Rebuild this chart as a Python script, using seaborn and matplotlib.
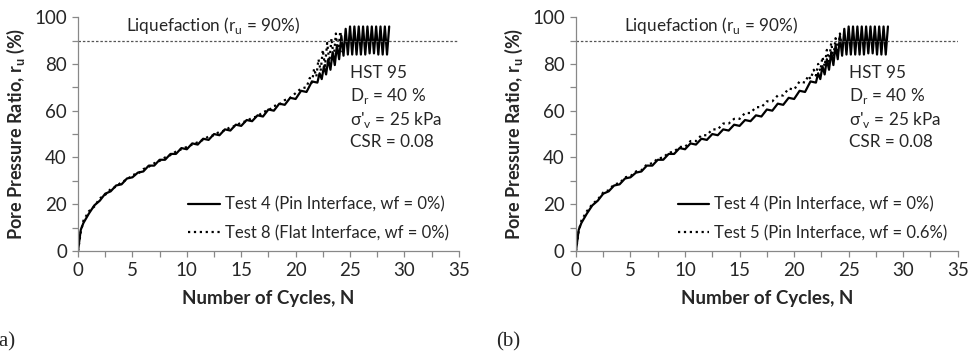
import numpy as np
import pandas as pd
import matplotlib
matplotlib.use("Agg")
import matplotlib.pyplot as plt
from matplotlib.ticker import MultipleLocator
import seaborn as sns

# Test 4 (Pin Interface, wf = 0%)
n_test4 = [0, 0.25, 0.5, 1.0, 1.5, 2.0, 2.5, 3.0, 3.5, 4.0, 4.5, 5.0, 5.5, 6.0, 6.5, 7.0,
           7.5, 8.0, 8.5, 9.0, 9.5, 10.0, 10.5, 11.0, 11.5, 12.0, 12.5, 13.0, 13.5, 14.0,
           14.5, 15.0, 15.5, 16.0, 16.5, 17.0, 17.5, 18.0, 18.5, 19.0, 19.5, 20.0, 20.5,
           21.0, 21.5, 22.0, 22.2, 22.4, 22.6, 22.8, 23.0, 23.2, 23.4, 23.6, 23.8, 24.0,
           24.2, 24.4, 24.6, 24.8, 25.0, 25.2, 25.4, 25.6, 25.8, 26.0, 26.2, 26.4, 26.6,
           26.8, 27.0, 27.2, 27.4, 27.6, 27.8, 28.0, 28.2, 28.4, 28.6]
ru_test4 = [0, 9, 12, 16, 19.5, 21.5, 24.5, 25.5, 28, 28.5, 31, 31.5, 33.5, 34, 36.5, 36.5,
            39, 39, 41.5, 41.5, 44, 43.5, 46, 45.5, 48, 47.5, 50, 49.5, 52, 51.5,
            54, 53.5, 56, 55.5, 58, 57.5, 60.5, 60, 63, 62.5, 65.5, 65, 68.5,
            68, 72.5, 72, 76, 73.5, 79, 75.5, 82, 77.5, 85, 79.5, 88, 82,
            92, 83.5, 95, 84, 96, 84, 96, 84, 96, 84, 96, 84, 96,
            84.5, 96, 84.5, 96, 84, 96, 84, 96, 84, 96]

# Test 8 (Flat Interface, wf = 0%)
n_test8 = [0, 0.25, 0.5, 1.0, 1.5, 2.0, 2.5, 3.0, 3.5, 4.0, 4.5, 5.0, 5.5, 6.0, 6.5, 7.0,
           7.5, 8.0, 8.5, 9.0, 9.5, 10.0, 10.5, 11.0, 11.5, 12.0, 12.5, 13.0, 13.5, 14.0,
           14.5, 15.0, 15.5, 16.0, 16.5, 17.0, 17.5, 18.0, 18.5, 19.0, 19.5, 20.0, 20.5,
           21.0, 21.3, 21.5, 21.7, 21.9, 22.1, 22.3, 22.5, 22.7, 22.9, 23.1, 23.3, 23.5,
           23.7, 23.9, 24.1, 24.3]
ru_test8 = [0, 8, 13, 17, 19, 22.5, 24, 26.5, 27.5, 29.5, 30.5, 32.5, 33, 35, 36, 37.5,
            38.5, 40, 41, 42.5, 43.5, 44.5, 45.5, 46.5, 47.5, 49, 49.5, 51, 51.5, 53,
            53.5, 55, 55.5, 57, 57.5, 59.5, 60, 62, 62.5, 64.5, 65.5, 67.5, 69.5,
            70, 74, 72, 78, 74.5, 82, 77, 86, 79, 89, 81, 91, 82.5,
            93, 84, 94, 85]

# Test 5 (Pin Interface, wf = 0.6%)
n_test5 = [0, 0.25, 0.5, 1.0, 1.5, 2.0, 2.5, 3.0, 3.5, 4.0, 4.5, 5.0, 5.5, 6.0, 6.5, 7.0,
           7.5, 8.0, 8.5, 9.0, 9.5, 10.0, 10.5, 11.0, 11.5, 12.0, 12.5, 13.0, 13.5, 14.0,
           14.5, 15.0, 15.5, 16.0, 16.5, 17.0, 17.5, 18.0, 18.5, 19.0, 19.5, 20.0, 20.5,
           21.0, 21.3, 21.5, 21.8, 22.0, 22.2, 22.4, 22.6, 22.8, 23.0, 23.2, 23.4, 23.6,
           23.8, 24.0, 24.2, 24.4]
ru_test5 = [0, 8.5, 13, 17, 20, 22, 25, 26, 28.5, 29, 31.5, 32, 34, 34.5, 37, 37.5,
            39.5, 40, 42, 42.5, 44.5, 44.5, 47, 47, 49.5, 49.5, 52, 52, 54.5, 54.5,
            56.5, 56.5, 59, 59, 61.5, 61.5, 64, 64, 66.5, 66.5, 69.5, 69, 72.5,
            72, 75, 73.5, 77.5, 75, 80, 77, 83, 79, 86, 81, 89, 83,
            91, 84.5, 93, 85.5]

panels = [
    ("(a)", "Test 8 (Flat Interface, wf = 0%)", n_test8, ru_test8),
    ("(b)", "Test 5 (Pin Interface, wf = 0.6%)", n_test5, ru_test5),
]

sns.set_style("white")
plt.rcParams["font.family"] = ["Lato", "DejaVu Sans"]
plt.rcParams["mathtext.fontset"] = "custom"
plt.rcParams["mathtext.rm"] = "Lato"
plt.rcParams["mathtext.bf"] = "Lato:bold"

fig = plt.figure(figsize=(9.68, 3.57), dpi=100)
axes = [fig.add_axes([0.0806, 0.297, 0.3934, 0.655]),
        fig.add_axes([0.595, 0.297, 0.3944, 0.655])]

for ax, (tag, label2, n2, ru2) in zip(axes, panels):
    d4 = pd.DataFrame({"N": n_test4, "ru": ru_test4})
    d2 = pd.DataFrame({"N": n2, "ru": ru2})
    sns.lineplot(data=d4, x="N", y="ru", ax=ax, color="black", lw=1.6, sort=False,
                 estimator=None, label="Test 4 (Pin Interface, wf = 0%)")
    sns.lineplot(data=d2, x="N", y="ru", ax=ax, color="black", lw=1.6, ls=":", sort=False,
                 estimator=None, label=label2)
    ax.axhline(90, color="#555555", lw=0.9, ls=(0, (2, 1.5)))

    ax.set_xlim(0, 35)
    ax.set_ylim(0, 100)
    ax.xaxis.set_major_locator(MultipleLocator(5))
    ax.xaxis.set_minor_locator(MultipleLocator(2.5))
    ax.yaxis.set_major_locator(MultipleLocator(20))
    ax.yaxis.set_minor_locator(MultipleLocator(10))
    ax.tick_params(which="both", direction="out", length=4, color="#888888", width=0.9,
                   labelsize=13.5, bottom=True, left=True, pad=4)
    for s in ["top", "right"]:
        ax.spines[s].set_visible(False)
    for s in ["left", "bottom"]:
        ax.spines[s].set_color("#888888")
        ax.spines[s].set_linewidth(0.9)

    ax.set_xlabel("Number of Cycles, N", fontsize=13.5, fontweight="bold", labelpad=8)
    ax.set_ylabel(r"Pore Pressure Ratio, r$_\mathbf{u}$ (%)", fontsize=13,
                  fontweight="bold", labelpad=5)

    ax.text(4.4, 96.5, r"Liquefaction (r$_\mathrm{u}$ = 90%)", fontsize=12.3, va="center")
    ax.text(25.0, 79.5, "HST 95\n" r"D$_\mathrm{r}$ = 40 %" "\n" r"σ'$_\mathrm{v}$ = 25 kPa" "\nCSR = 0.08",
            fontsize=12.3, va="top", linespacing=1.3)

    ax.legend(loc="lower right", bbox_to_anchor=(1.0, 0.0), frameon=False, fontsize=12,
              handlelength=1.9, handletextpad=0.3, labelspacing=0.75, borderaxespad=0.2)

    ax.text(-0.225 if tag == "(a)" else -0.209, -0.39, tag, transform=ax.transAxes,
            fontsize=15, family="Liberation Serif", va="center", ha="left")

fig.savefig("out.png", dpi=100)
